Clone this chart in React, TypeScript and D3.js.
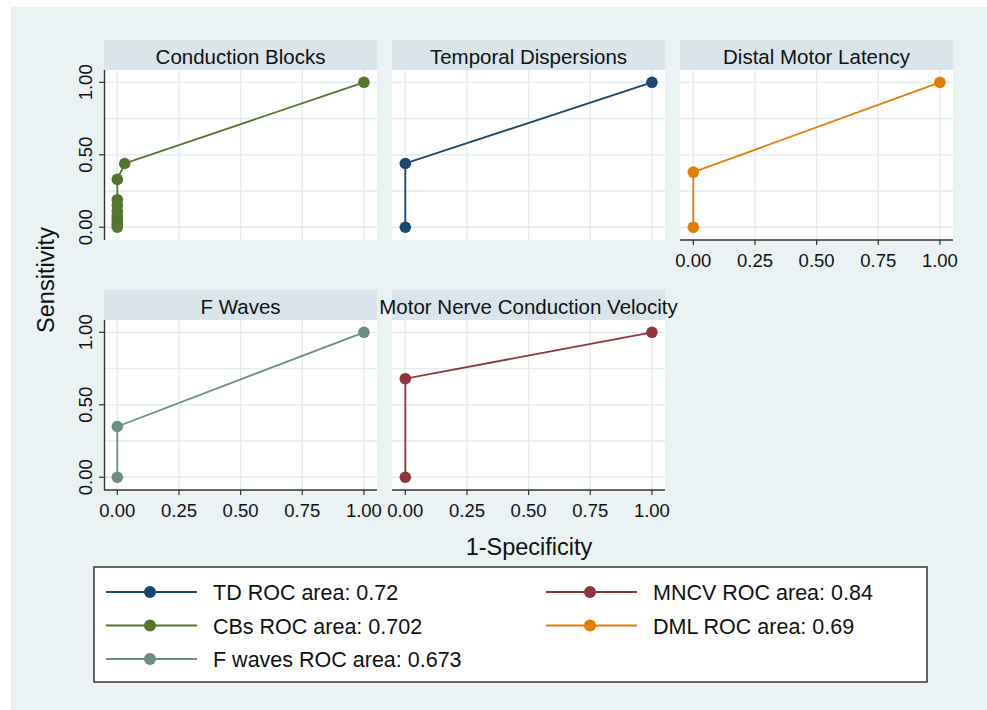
import * as d3 from 'd3';

// ROC curve points (x = 1-specificity, y = sensitivity)
const cbFpr = [0, 0, 0, 0, 0, 0, 0, 0, 0, 0.03, 1];
const cbSens = [0, 0.02, 0.04, 0.06, 0.08, 0.11, 0.15, 0.19, 0.33, 0.44, 1];
const tdFpr = [0, 0, 1];
const tdSens = [0, 0.44, 1];
const dmlFpr = [0, 0, 1];
const dmlSens = [0, 0.38, 1];
const fwFpr = [0, 0, 1];
const fwSens = [0, 0.35, 1];
const mncvFpr = [0, 0, 1];
const mncvSens = [0, 0.68, 1];

const panelTitles = [
  'Conduction Blocks',
  'Temporal Dispersions',
  'Distal Motor Latency',
  'F Waves',
  'Motor Nerve Conduction Velocity',
];
const xTicks = [0, 0.25, 0.5, 0.75, 1];
const yTicks = [0, 0.5, 1];
const gridTicks = [0, 0.25, 0.5, 0.75, 1];

const legendLabels = [
  'TD ROC area: 0.72',
  'CBs ROC area: 0.702',
  'F waves ROC area: 0.673',
  'MNCV ROC area: 0.84',
  'DML ROC area: 0.69',
];

const NAVY = '#1a476f';
const GREEN = '#55752f';
const TEAL = '#6e8e84';
const MAROON = '#90353b';
const ORANGE = '#e37e00';

const FONT = '"Liberation Sans", Arial, Helvetica, sans-serif';

const panels = [
  { title: panelTitles[0], fpr: cbFpr, sens: cbSens, color: GREEN, col: 0, row: 0 },
  { title: panelTitles[1], fpr: tdFpr, sens: tdSens, color: NAVY, col: 1, row: 0 },
  { title: panelTitles[2], fpr: dmlFpr, sens: dmlSens, color: ORANGE, col: 2, row: 0 },
  { title: panelTitles[3], fpr: fwFpr, sens: fwSens, color: TEAL, col: 0, row: 1 },
  { title: panelTitles[4], fpr: mncvFpr, sens: mncvSens, color: MAROON, col: 1, row: 1 },
];

const legendItems = [
  { label: legendLabels[0], color: NAVY, col: 0, row: 0 },
  { label: legendLabels[1], color: GREEN, col: 0, row: 1 },
  { label: legendLabels[2], color: TEAL, col: 0, row: 2 },
  { label: legendLabels[3], color: MAROON, col: 1, row: 0 },
  { label: legendLabels[4], color: ORANGE, col: 1, row: 1 },
];

const W = 987;
const H = 710;
const panelW = 273;
const colStep = 288;
const rowStep = 250;
const left0 = 104;
const top0 = 40;
const stripH = 30;
const plotH = 170;

function Panel({ p }: { p: (typeof panels)[number] }) {
  const left = left0 + p.col * colStep;
  const top = top0 + p.row * rowStep;
  const pTop = top + stripH;
  const pBottom = pTop + plotH;
  const x = d3.scaleLinear().domain([-0.054, 1.053]).range([left, left + panelW]);
  const y = d3.scaleLinear().domain([-0.088, 1.085]).range([pBottom, pTop]);
  const pts = p.fpr.map((f, i) => [f, p.sens[i]] as [number, number]);
  const line = d3
    .line<[number, number]>()
    .x((d) => x(d[0]))
    .y((d) => y(d[1]));
  const showY = p.col === 0;
  const showX = p.row === 1 || p.col === 2;

  return (
    <g>
      <rect x={left} y={top} width={panelW} height={stripH} fill="#d9e5eb" />
      <text
        x={left + panelW / 2}
        y={top + stripH / 2 + 1}
        textAnchor="middle"
        dominantBaseline="central"
        fontSize={20.5}
        fontFamily={FONT}
        fill="#111"
      >
        {p.title}
      </text>
      <rect x={left} y={pTop} width={panelW} height={plotH} fill="#ffffff" />
      {gridTicks.map((t) => (
        <line key={'gx' + t} x1={x(t)} x2={x(t)} y1={pTop} y2={pBottom} stroke="#e2ebef" strokeWidth={1.3} />
      ))}
      {gridTicks.map((t) => (
        <line key={'gy' + t} x1={left} x2={left + panelW} y1={y(t)} y2={y(t)} stroke="#e2ebef" strokeWidth={1.3} />
      ))}
      {showY && (
        <g>
          <line x1={left + 0.5} x2={left + 0.5} y1={pTop} y2={pBottom} stroke="#333" strokeWidth={1.4} />
          {yTicks.map((t) => (
            <g key={'yt' + t}>
              <line x1={left - 5} x2={left} y1={y(t)} y2={y(t)} stroke="#333" strokeWidth={1.2} />
              <text
                transform={`translate(${left - 19},${y(t)}) rotate(-90)`}
                textAnchor="middle"
                dominantBaseline="central"
                fontSize={18.5}
                fontFamily={FONT}
                fill="#111"
              >
                {d3.format('.2f')(t)}
              </text>
            </g>
          ))}
        </g>
      )}
      {showX && (
        <g>
          <line x1={left} x2={left + panelW} y1={pBottom} y2={pBottom} stroke="#333" strokeWidth={1.4} />
          {xTicks.map((t) => (
            <g key={'xt' + t}>
              <line x1={x(t)} x2={x(t)} y1={pBottom} y2={pBottom + 5} stroke="#333" strokeWidth={1.2} />
              <text
                x={x(t)}
                y={pBottom + 20}
                textAnchor="middle"
                dominantBaseline="central"
                fontSize={18.5}
                fontFamily={FONT}
                fill="#111"
              >
                {d3.format('.2f')(t)}
              </text>
            </g>
          ))}
        </g>
      )}
      <path d={line(pts) || ''} fill="none" stroke={p.color} strokeWidth={1.8} />
      {pts.map((d, i) => (
        <circle key={i} cx={x(d[0])} cy={y(d[1])} r={5.8} fill={p.color} />
      ))}
    </g>
  );
}

export default function App() {
  const legLeft = 94;
  const legTop = 567;
  const legW = 833;
  const legH = 115;
  const legColX = [106, 546];
  const legRowY = [592, 625.5, 659];

  return (
    <svg
      width={W}
      height={H}
      viewBox={`0 0 ${W} ${H}`}
      style={{ position: 'absolute', left: 0, top: 0, display: 'block' }}
    >
      <rect x={0} y={0} width={W} height={H} fill="#ffffff" />
      <rect x={11} y={7} width={W - 11} height={H - 7} fill="#eaf2f3" />
      {panels.map((p) => (
        <Panel key={p.title} p={p} />
      ))}
      <text
        transform="translate(46,280) rotate(-90)"
        textAnchor="middle"
        dominantBaseline="central"
        fontSize={23.5}
        fontFamily={FONT}
        fill="#111"
      >
        Sensitivity
      </text>
      <text
        x={529}
        y={547}
        textAnchor="middle"
        dominantBaseline="central"
        fontSize={23.5}
        fontFamily={FONT}
        fill="#111"
      >
        1-Specificity
      </text>
      <rect x={legLeft} y={legTop} width={legW} height={legH} fill="#ffffff" stroke="#333" strokeWidth={1.5} />
      {legendItems.map((it) => {
        const lx = legColX[it.col];
        const ly = legRowY[it.row];
        return (
          <g key={it.label}>
            <line x1={lx} x2={lx + 91} y1={ly} y2={ly} stroke={it.color} strokeWidth={2} />
            <circle cx={lx + 44} cy={ly} r={6} fill={it.color} />
            <text
              x={lx + 107}
              y={ly + 1}
              dominantBaseline="central"
              fontSize={21.5}
              fontFamily={FONT}
              fill="#111"
            >
              {it.label}
            </text>
          </g>
        );
      })}
    </svg>
  );
}
